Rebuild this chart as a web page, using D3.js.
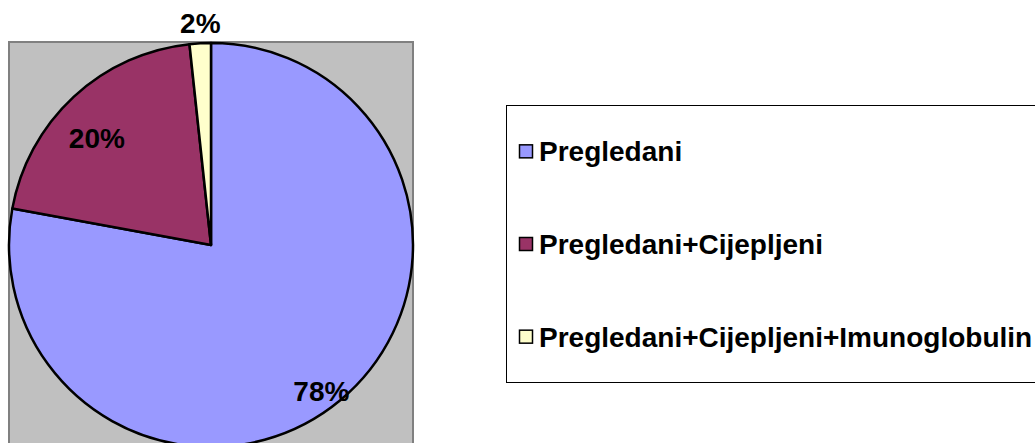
<!DOCTYPE html>
<html>
<head>
<meta charset="utf-8">
<script src="https://cdn.jsdelivr.net/npm/d3@7"></script>
<style>
  body { margin: 0; background: #fff; }
  svg text { font-family: "Liberation Sans", Arial, sans-serif; font-weight: bold; }
</style>
</head>
<body>
<div id="chart"></div>
<script>
// data
const categories = ["Pregledani", "Pregledani+Cijepljeni", "Pregledani+Cijepljeni+Imunoglobulin"];
const values = [77.9, 20.4, 1.7];
const colors = ["#9999FF", "#993366", "#FFFFCC"];

const width = 1035, height = 443;
const cx = 211, cy = 245, radius = 202;

let svg = d3.select("#chart")
    .append("svg")
    .attr("width", width)
    .attr("height", height);

// plot area (grey box behind the pie)
svg.append("rect")
    .attr("x", 9)
    .attr("y", 42)
    .attr("width", 404)
    .attr("height", 420)
    .attr("fill", "#C0C0C0")
    .attr("stroke", "#808080")
    .attr("stroke-width", 2);

let total = d3.sum(values);
let pie = d3.pie().sort(null).value(d => d);
let arcs = pie(values);
let arc = d3.arc().innerRadius(0).outerRadius(radius);

let g = svg.append("g")
    .attr("transform", `translate(${cx},${cy})`);

g.selectAll("path")
    .data(arcs)
    .enter()
    .append("path")
    .attr("d", arc)
    .attr("fill", (d, i) => colors[i])
    .attr("stroke", "#000")
    .attr("stroke-width", 2.5)
    .attr("stroke-linejoin", "round");

// label distance from centre (share of radius) and a small nudge, like excel places them
const labelFactor = [0.9, 0.78, 1.085];
const labelNudge = [[-6, 6], [-7, 8], [1, -3]];

g.selectAll("text.lbl")
    .data(arcs)
    .enter()
    .append("text")
    .attr("class", "lbl")
    .attr("transform", function(d, i) {
        let r = radius * labelFactor[i];
        let a = (d.startAngle + d.endAngle) / 2;
        let x = r * Math.sin(a) + labelNudge[i][0];
        let y = -r * Math.cos(a) + labelNudge[i][1];
        return `translate(${x},${y})`;
    })
    .attr("text-anchor", "middle")
    .attr("dy", "0.36em")
    .style("font-size", "28px")
    .text(d => Math.round(d.value / total * 100) + "%");

// legend
let legend = svg.append("g");
legend.append("rect")
    .attr("x", 506.5)
    .attr("y", 105.5)
    .attr("width", 540)
    .attr("height", 277)
    .attr("fill", "#fff")
    .attr("stroke", "#000")
    .attr("stroke-width", 1);

let ly = d3.scaleBand()
    .domain(categories)
    .range([105, 383]);

let items = legend.selectAll("g.item")
    .data(categories)
    .enter()
    .append("g")
    .attr("class", "item")
    .attr("transform", d => `translate(0,${ly(d) + ly.bandwidth() / 2})`);

items.append("rect")
    .attr("x", 519.5)
    .attr("y", -6.5)
    .attr("width", 13)
    .attr("height", 13)
    .attr("fill", (d, i) => colors[i])
    .attr("stroke", "#000")
    .attr("stroke-width", 1.5);

items.append("text")
    .attr("x", 539)
    .attr("dy", "0.36em")
    .style("font-size", "28px")
    .text(d => d);
</script>
</body>
</html>
